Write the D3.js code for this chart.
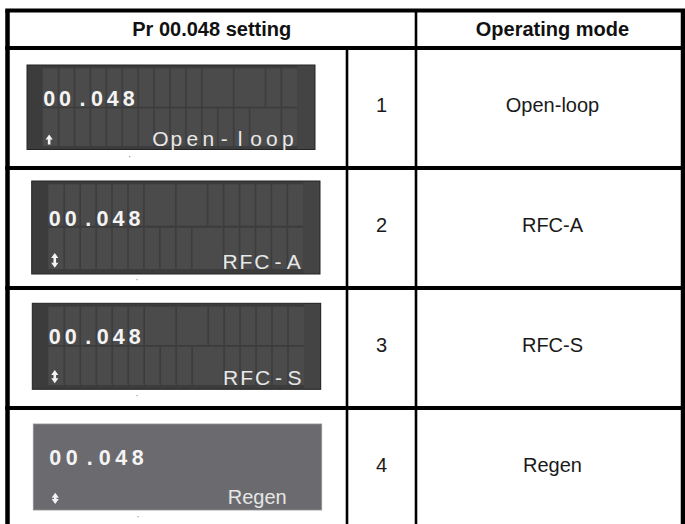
<!DOCTYPE html>
<html><head><meta charset="utf-8">
<script src="https://cdn.jsdelivr.net/npm/d3@7"></script>
<style>html,body{margin:0;padding:0;background:#fff;}svg{display:block;}</style>
</head><body>
<svg id="chart" width="685" height="524"></svg>
<script>
// ---- data ----
const headerLabels = ["Pr 00.048 setting", "Operating mode"];
const settingValues = [1, 2, 3, 4];
const modeNames = ["Open-loop", "RFC-A", "RFC-S", "Regen"];
const lcdParam = "00.048";
const lcdModeText = ["Open-loop", "RFC-A", "RFC-S", "Regen"];
const lcdArrow = ["up", "updown", "updown", "updown"];

// ---- layout / style (not data) ----
const lcdLayout = [
  {x0:27, x1:315, y0:65, y1:149.5, cx0:42.7, cx1:297.3, top:[68.3,106.7], bot:[108.3,146], topBase:105.5, botBase:145.5, missTop:[11,13], missBot:[14], arrow:[134.5,144.5], dot:[129,156], flat:false},
  {x0:31.7, x1:320, y0:181, y1:274, cx0:48.3, cx1:303.3, top:[184.3,225.7], bot:[227.7,269], topBase:225.5, botBase:269, missTop:[7,9], missBot:[10], arrow:[253,267.7], dot:[136.5,279], flat:false},
  {x0:32.3, x1:320.7, y0:303.3, y1:389.3, cx0:48.3, cx1:304, top:[306.7,345], bot:[346.7,385], topBase:344, botBase:384.5, missTop:[7,9], missBot:[10], arrow:[370,383.3], dot:[136.5,395], flat:false},
  {x0:33.3, x1:321.7, y0:424, y1:510, cx0:48.5, cx1:312.5, top:null, bot:null, topBase:464.5, botBase:504.3, missTop:[], missBot:[], arrow:[492.7,504], dot:[137.5,516], flat:true}
];

const svg = d3.select("#chart");
const FONT = "'Liberation Sans', Arial, Helvetica, sans-serif";
const yRow = d3.scaleLinear().domain([0, 4]).range([48, 528]);
const xLeft = 7.5, xNum = 347, xMode = 416, xRight = 683, yTop = 10.5;
const xNumCenter = (xNum + xMode) / 2, xModeCenter = 552.5;

// ---- LCD displays ----
lcdLayout.forEach((L, i) => {
  const g = svg.append("g");
  const xs = d3.scaleLinear().domain([0, 16]).range([L.cx0, L.cx1]);
  if (L.flat) {
    g.append("rect").attr("x", L.x0).attr("y", L.y0).attr("width", L.x1 - L.x0).attr("height", L.y1 - L.y0)
      .attr("fill", "#6b6b6f").attr("stroke", "#8e8e90").attr("stroke-width", 0.8);
  } else {
    g.append("rect").attr("x", L.x0).attr("y", L.y0).attr("width", L.x1 - L.x0).attr("height", L.y1 - L.y0)
      .attr("fill", "#3c3c3c");
    g.append("rect").attr("x", L.cx1).attr("y", L.y0).attr("width", L.x1 - L.cx1).attr("height", L.y1 - L.y0)
      .attr("fill", "#444444");
    g.append("rect").attr("x", L.x0).attr("y", L.y0).attr("width", L.x1 - L.x0).attr("height", L.y1 - L.y0)
      .attr("fill", "none").attr("stroke", "#242424").attr("stroke-width", 1);
    [[L.top, L.missTop], [L.bot, L.missBot]].forEach(([r, miss]) => {
      g.append("rect").attr("x", L.cx0).attr("y", r[0]).attr("width", L.cx1 - L.cx0).attr("height", r[1] - r[0])
        .attr("fill", "#4b4b4b");
      const seps = d3.range(1, 16).filter(k => !miss.includes(k));
      g.selectAll(null).data(seps).enter().append("rect")
        .attr("x", k => xs(k) - 0.8).attr("y", r[0]).attr("width", 1.6).attr("height", r[1] - r[0])
        .attr("fill", "#3d3d3d");
    });
  }
  // parameter digits, one per cell
  const chars = lcdParam.split("");
  g.selectAll(null).data(chars).enter().append("text")
    .attr("x", (c, k) => xs(k + 0.5) - (c === "." ? 0 : 1.5))
    .attr("y", L.topBase)
    .attr("text-anchor", "middle")
    .attr("font-family", FONT).attr("font-weight", "bold").attr("font-size", 21.5)
    .attr("fill", "#f4f4f4").text(c => c);
  // mode text
  const txt = lcdModeText[i];
  if (L.flat) {
    g.append("text").attr("x", 227.7).attr("y", L.botBase)
      .attr("font-family", FONT).attr("font-size", 20).attr("fill", "#e6e6e6").text(txt);
  } else {
    const mc = txt.split("");
    const start = 16 - mc.length;
    g.selectAll(null).data(mc).enter().append("text")
      .attr("x", (c, k) => xs(start + k + 0.5) - 1.5)
      .attr("y", L.botBase)
      .attr("text-anchor", "middle")
      .attr("font-family", FONT).attr("font-size", 21)
      .attr("fill", "#e8e8e8").text(c => c);
  }
  // arrow glyph
  const ax = xs(0.5) - 1.5, ay0 = L.arrow[0], ay1 = L.arrow[1];
  const hw = 3.6, hh = 5, sw = 1.3;
  let p = `M${ax},${ay0} L${ax + hw},${ay0 + hh} L${ax + sw},${ay0 + hh} `;
  if (lcdArrow[i] === "updown") {
    p += `L${ax + sw},${ay1 - hh} L${ax + hw},${ay1 - hh} L${ax},${ay1} L${ax - hw},${ay1 - hh} L${ax - sw},${ay1 - hh} `;
  } else {
    p += `L${ax + sw},${ay1} L${ax - sw},${ay1} `;
  }
  p += `L${ax - sw},${ay0 + hh} L${ax - hw},${ay0 + hh} Z`;
  g.append("path").attr("d", p).attr("fill", "#f4f4f4");
  // tiny scan dot
  g.append("rect").attr("x", L.dot[0]).attr("y", L.dot[1]).attr("width", 1.2).attr("height", 1.2).attr("fill", "#9a9a9a");
});

// ---- table grid ----
const grid = svg.append("g").attr("stroke", "#000");
grid.selectAll(null).data([yTop].concat(d3.range(0, 5).map(i => yRow(i)))).enter().append("line")
  .attr("x1", xLeft - 2.25).attr("x2", xRight + 2).attr("y1", d => d).attr("y2", d => d)
  .attr("stroke-width", 4);
[xLeft, xRight].forEach(x => grid.append("line").attr("x1", x).attr("x2", x).attr("y1", yTop).attr("y2", 530).attr("stroke-width", 4.5));
grid.append("line").attr("x1", xMode).attr("x2", xMode).attr("y1", yTop).attr("y2", 530).attr("stroke-width", 2.6);
grid.append("line").attr("x1", xNum).attr("x2", xNum).attr("y1", yRow(0)).attr("y2", 530).attr("stroke-width", 2.6);

// ---- header text ----
svg.selectAll(null).data(headerLabels).enter().append("text")
  .attr("x", (d, i) => i === 0 ? (xLeft + xMode) / 2 : xModeCenter)
  .attr("y", 36)
  .attr("text-anchor", "middle")
  .attr("font-family", FONT).attr("font-weight", "bold").attr("font-size", 20)
  .attr("fill", "#111").text(d => d);

// ---- body text ----
svg.selectAll(null).data(settingValues).enter().append("text")
  .attr("x", xNumCenter).attr("y", (d, i) => yRow(i) + 64.3)
  .attr("text-anchor", "middle").attr("font-family", FONT).attr("font-size", 20)
  .attr("fill", "#1a1a1a").text(d => d);
svg.selectAll(null).data(modeNames).enter().append("text")
  .attr("x", xModeCenter).attr("y", (d, i) => yRow(i) + 64.3)
  .attr("text-anchor", "middle").attr("font-family", FONT).attr("font-size", 20)
  .attr("fill", "#1a1a1a").text(d => d);
</script>
</body></html>
